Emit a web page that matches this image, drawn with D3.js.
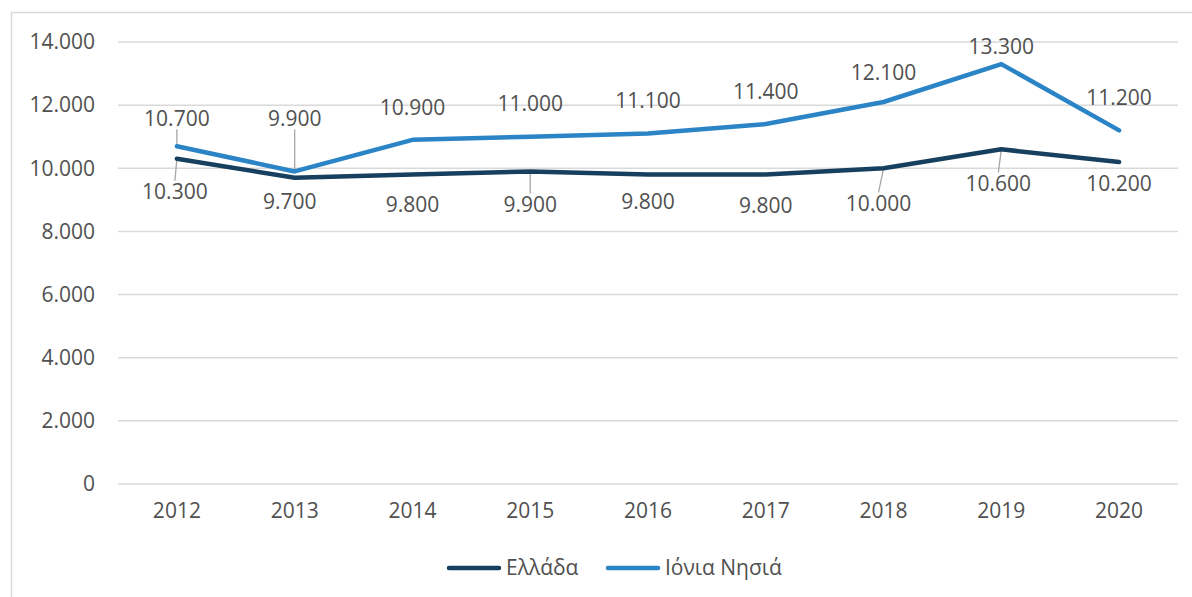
<!DOCTYPE html>
<html>
<head>
<meta charset="utf-8">
<script src="https://cdn.jsdelivr.net/npm/d3@7"></script>
<style>
body { margin: 0; background: #fff; }
text { font-family: "Open Sans", sans-serif; fill: #505050; }
</style>
</head>
<body>
<div id="chart"></div>
<script>
const years = ["2012", "2013", "2014", "2015", "2016", "2017", "2018", "2019", "2020"];
const greece = [10300, 9700, 9800, 9900, 9800, 9800, 10000, 10600, 10200];
const ionian = [10700, 9900, 10900, 11000, 11100, 11400, 12100, 13300, 11200];
const yTicks = [0, 2000, 4000, 6000, 8000, 10000, 12000, 14000];
const seriesNames = ["Ελλάδα", "Ιόνια Νησιά"];

// label placement (shift of label centre from point, px) and leader lines
const ionianLabelDy = [-28, -53, -32, -33, -33, -32, -29, -17, -33];
const greeceLabelDy = [33, 24, 30, 33, 27, 31, 35, 34, 22];
const greeceLabelDx = [-2, -5, 0, 0, 0, 0, -5, -3, 0];
const ionianLeaders = [0, 1];
const greeceLeaders = [0, 3, 6, 7];

const W = 1192, H = 597;
const margin = {top: 42, right: 14, bottom: 113, left: 118},
width = 1178 - margin.left,
height = 484 - margin.top;

const fmt = v => d3.format(",")(v).replace(/,/g, ".");
const fs = "21px";

const svg = d3.select("#chart")
.append("svg")
.attr("width", W)
.attr("height", H);

// outer frame
svg.append("rect")
.attr("x", 11.5).attr("y", 12.5)
.attr("width", W + 10).attr("height", H + 10)
.attr("fill", "none")
.attr("stroke", "#d9d9d9")
.attr("stroke-width", 1.5);

const g = svg.append("g")
.attr("transform", `translate(${margin.left},${margin.top})`);

const x = d3.scaleBand()
.domain(years)
.range([0, width]);

const y = d3.scaleLinear()
.domain([0, 14000])
.range([height, 0]);

// gridlines
g.append("g")
.selectAll("line")
.data(yTicks)
.join("line")
.attr("x1", 0)
.attr("x2", width)
.attr("y1", d => y(d))
.attr("y2", d => y(d))
.attr("stroke", "#d9d9d9")
.attr("stroke-width", 1.5);

// y axis labels
const yAxis = g.append("g")
.call(d3.axisLeft(y).tickValues(yTicks).tickFormat(fmt).tickSize(0).tickPadding(23));
yAxis.select(".domain").remove();
yAxis.selectAll("text").style("font-size", fs).attr("fill", "#505050");

// x axis labels
const xAxis = g.append("g")
.attr("transform", `translate(0,${height})`)
.call(d3.axisBottom(x).tickSize(0).tickPadding(19));
xAxis.select(".domain").remove();
xAxis.selectAll("text").style("font-size", fs).attr("fill", "#505050");

const cx = d => x(d) + x.bandwidth() / 2;

const series = [
	{name: seriesNames[0], values: greece, color: "#17405f", dy: greeceLabelDy, dx: greeceLabelDx, leaders: greeceLeaders},
	{name: seriesNames[1], values: ionian, color: "#2b84c6", dy: ionianLabelDy, dx: years.map(() => 0), leaders: ionianLeaders}
];

const line = d3.line()
.x((d, i) => cx(years[i]))
.y(d => y(d));

// leader lines
series.forEach(s => {
	g.append("g")
	.selectAll("line")
	.data(s.leaders)
	.join("line")
	.attr("x1", i => cx(years[i]))
	.attr("y1", i => y(s.values[i]))
	.attr("x2", i => cx(years[i]) + s.dx[i])
	.attr("y2", i => y(s.values[i]) + s.dy[i] + (s.dy[i] < 0 ? 11 : -11))
	.attr("stroke", "#a6a6a6")
	.attr("stroke-width", 1.3);
});

series.forEach(s => {
	g.append("path")
	.datum(s.values)
	.attr("d", line)
	.attr("fill", "none")
	.attr("stroke", s.color)
	.attr("stroke-width", 4.5)
	.attr("stroke-linecap", "round")
	.attr("stroke-linejoin", "round");
});

// data labels
series.forEach(s => {
	g.append("g")
	.selectAll("text")
	.data(s.values)
	.join("text")
	.attr("x", (d, i) => cx(years[i]) + s.dx[i])
	.attr("y", (d, i) => y(d) + s.dy[i])
	.attr("dy", "0.35em")
	.attr("text-anchor", "middle")
	.style("font-size", fs)
	.text(d => fmt(d));
});

// legend
const legend = svg.append("g")
.attr("transform", "translate(447,568)");
const legendItems = legend.selectAll("g")
.data(series)
.join("g")
.attr("transform", (d, i) => `translate(${i * 159},0)`);
legendItems.append("line")
.attr("x1", 2).attr("x2", 52)
.attr("stroke", d => d.color)
.attr("stroke-width", 4.5)
.attr("stroke-linecap", "round");
legendItems.append("text")
.attr("x", 59)
.attr("dy", "0.35em")
.style("font-size", fs)
.text(d => d.name);
</script>
</body>
</html>
